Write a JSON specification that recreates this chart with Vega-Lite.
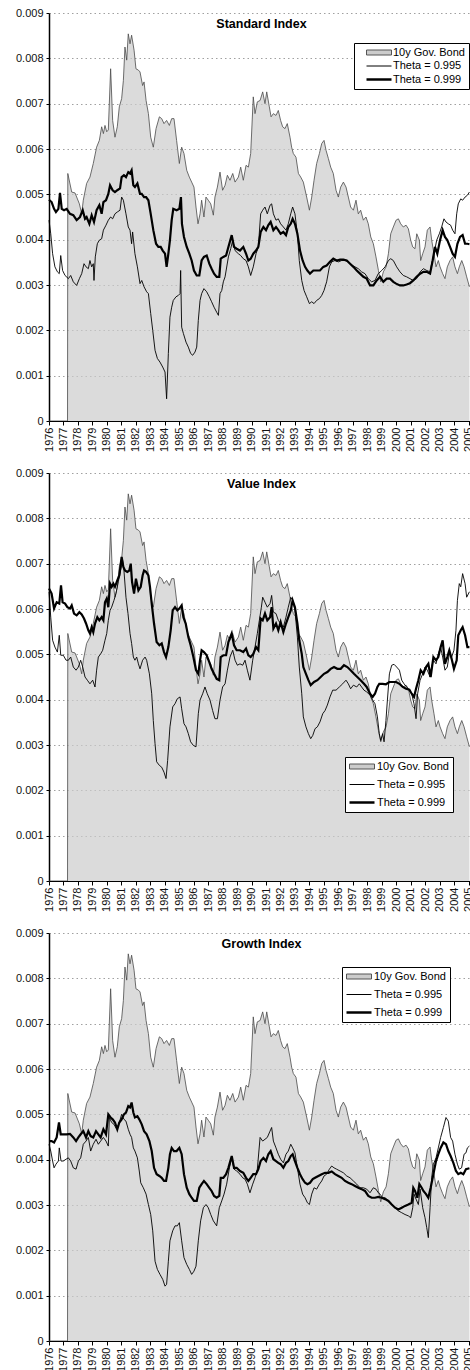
{
"$schema": "https://vega.github.io/schema/vega-lite/v6.json",
"padding": {"left": 15, "top": 7, "right": 0, "bottom": 0},
"background": "white",
"spacing": 15,
"config": {
  "font": "Liberation Sans",
  "view": {"stroke": null},
  "axis": {"labelFont": "Liberation Sans", "labelFontSize": 11, "labelColor": "#111111", "domainColor": "#000000", "tickColor": "#000000", "title": null},
  "legend": {"title": null, "orient": "none", "strokeColor": "#000000", "fillColor": "#ffffff", "padding": 4, "symbolSize": 100, "symbolType": "stroke", "labelFont": "Liberation Sans", "labelFontSize": 11, "labelColor": "#000000"},
  "title": {"font": "Liberation Sans", "fontSize": 12.5, "fontWeight": "bold", "color": "#000000", "anchor": "middle", "frame": "group", "offset": -23, "dx": 2}
},
"resolve": {"scale": {"stroke": "independent"}, "legend": {"stroke": "independent"}},
"datasets": {
"bond": [{"t":1976.00,"v":0},{"t":1977.28,"v":0},{"t":1977.30,"v":0.00546},{"t":1977.57,"v":0.00505},{"t":1977.80,"v":0.00503},{"t":1978.10,"v":0.00479},{"t":1978.26,"v":0.00457},{"t":1978.37,"v":0.00487},{"t":1978.60,"v":0.00524},{"t":1978.83,"v":0.00538},{"t":1979.06,"v":0.00568},{"t":1979.29,"v":0.00604},{"t":1979.48,"v":0.00619},{"t":1979.64,"v":0.00649},{"t":1979.76,"v":0.00634},{"t":1979.87,"v":0.00652},{"t":1979.99,"v":0.00638},{"t":1980.10,"v":0.00642},{"t":1980.26,"v":0.00777},{"t":1980.40,"v":0.00663},{"t":1980.56,"v":0.00626},{"t":1980.72,"v":0.00649},{"t":1980.86,"v":0.00693},{"t":1981.02,"v":0.00711},{"t":1981.14,"v":0.00751},{"t":1981.25,"v":0.00825},{"t":1981.37,"v":0.00796},{"t":1981.48,"v":0.00854},{"t":1981.60,"v":0.00832},{"t":1981.71,"v":0.00851},{"t":1981.88,"v":0.00818},{"t":1982.01,"v":0.00777},{"t":1982.18,"v":0.00774},{"t":1982.29,"v":0.00770},{"t":1982.47,"v":0.00740},{"t":1982.57,"v":0.00748},{"t":1982.71,"v":0.00707},{"t":1982.87,"v":0.00678},{"t":1983.03,"v":0.00626},{"t":1983.21,"v":0.00604},{"t":1983.40,"v":0.00645},{"t":1983.63,"v":0.00671},{"t":1983.79,"v":0.00667},{"t":1983.95,"v":0.00656},{"t":1984.13,"v":0.00663},{"t":1984.32,"v":0.00652},{"t":1984.48,"v":0.00667},{"t":1984.64,"v":0.00667},{"t":1984.82,"v":0.00619},{"t":1985.01,"v":0.00568},{"t":1985.17,"v":0.00604},{"t":1985.33,"v":0.00590},{"t":1985.52,"v":0.00553},{"t":1985.70,"v":0.00538},{"t":1985.86,"v":0.00527},{"t":1986.02,"v":0.00516},{"t":1986.16,"v":0.00472},{"t":1986.30,"v":0.00435},{"t":1986.44,"v":0.00457},{"t":1986.55,"v":0.00487},{"t":1986.71,"v":0.00450},{"t":1986.85,"v":0.00494},{"t":1987.01,"v":0.00487},{"t":1987.18,"v":0.00479},{"t":1987.36,"v":0.00454},{"t":1987.47,"v":0.00494},{"t":1987.64,"v":0.00516},{"t":1987.82,"v":0.00549},{"t":1988.00,"v":0.00509},{"t":1988.17,"v":0.00520},{"t":1988.33,"v":0.00542},{"t":1988.51,"v":0.00531},{"t":1988.70,"v":0.00546},{"t":1988.86,"v":0.00527},{"t":1989.09,"v":0.00538},{"t":1989.25,"v":0.00560},{"t":1989.43,"v":0.00531},{"t":1989.62,"v":0.00564},{"t":1989.78,"v":0.00560},{"t":1989.94,"v":0.00590},{"t":1990.12,"v":0.00715},{"t":1990.24,"v":0.00678},{"t":1990.40,"v":0.00704},{"t":1990.59,"v":0.00707},{"t":1990.77,"v":0.00726},{"t":1990.93,"v":0.00700},{"t":1991.05,"v":0.00726},{"t":1991.23,"v":0.00693},{"t":1991.35,"v":0.00671},{"t":1991.51,"v":0.00678},{"t":1991.69,"v":0.00674},{"t":1991.85,"v":0.00685},{"t":1992.01,"v":0.00663},{"t":1992.15,"v":0.00649},{"t":1992.31,"v":0.00645},{"t":1992.47,"v":0.00656},{"t":1992.66,"v":0.00626},{"t":1992.77,"v":0.00604},{"t":1992.89,"v":0.00590},{"t":1993.07,"v":0.00582},{"t":1993.24,"v":0.00546},{"t":1993.40,"v":0.00538},{"t":1993.58,"v":0.00527},{"t":1993.81,"v":0.00494},{"t":1994.00,"v":0.00465},{"t":1994.16,"v":0.00494},{"t":1994.32,"v":0.00531},{"t":1994.50,"v":0.00568},{"t":1994.69,"v":0.00590},{"t":1994.85,"v":0.00612},{"t":1995.01,"v":0.00619},{"t":1995.15,"v":0.00597},{"t":1995.31,"v":0.00579},{"t":1995.47,"v":0.00560},{"t":1995.65,"v":0.00546},{"t":1995.84,"v":0.00509},{"t":1996.00,"v":0.00494},{"t":1996.16,"v":0.00516},{"t":1996.35,"v":0.00527},{"t":1996.53,"v":0.00516},{"t":1996.69,"v":0.00494},{"t":1996.85,"v":0.00472},{"t":1997.04,"v":0.00465},{"t":1997.22,"v":0.00487},{"t":1997.38,"v":0.00457},{"t":1997.54,"v":0.00465},{"t":1997.73,"v":0.00443},{"t":1997.91,"v":0.00450},{"t":1998.07,"v":0.00435},{"t":1998.24,"v":0.00406},{"t":1998.42,"v":0.00391},{"t":1998.60,"v":0.00362},{"t":1998.77,"v":0.00332},{"t":1998.93,"v":0.00307},{"t":1999.11,"v":0.00329},{"t":1999.30,"v":0.00340},{"t":1999.46,"v":0.00369},{"t":1999.62,"v":0.00413},{"t":1999.80,"v":0.00428},{"t":1999.99,"v":0.00443},{"t":2000.15,"v":0.00446},{"t":2000.31,"v":0.00435},{"t":2000.49,"v":0.00428},{"t":2000.68,"v":0.00432},{"t":2000.84,"v":0.00424},{"t":2001.00,"v":0.00399},{"t":2001.14,"v":0.00384},{"t":2001.30,"v":0.00380},{"t":2001.42,"v":0.00413},{"t":2001.60,"v":0.00399},{"t":2001.69,"v":0.00354},{"t":2001.83,"v":0.00369},{"t":2001.99,"v":0.00384},{"t":2002.15,"v":0.00421},{"t":2002.34,"v":0.00428},{"t":2002.45,"v":0.00399},{"t":2002.61,"v":0.00369},{"t":2002.75,"v":0.00340},{"t":2002.91,"v":0.00354},{"t":2003.03,"v":0.00340},{"t":2003.21,"v":0.00325},{"t":2003.37,"v":0.00314},{"t":2003.53,"v":0.00340},{"t":2003.72,"v":0.00354},{"t":2003.90,"v":0.00362},{"t":2004.06,"v":0.00340},{"t":2004.23,"v":0.00325},{"t":2004.36,"v":0.00340},{"t":2004.53,"v":0.00354},{"t":2004.69,"v":0.00340},{"t":2004.87,"v":0.00318},{"t":2005.06,"v":0.00296}],
"p1a": [{"t":1976.00,"v":0.00443},{"t":1976.12,"v":0.00413},{"t":1976.25,"v":0.00369},{"t":1976.41,"v":0.00340},{"t":1976.58,"v":0.00329},{"t":1976.71,"v":0.00325},{"t":1976.81,"v":0.00365},{"t":1976.94,"v":0.00332},{"t":1977.11,"v":0.00321},{"t":1977.34,"v":0.00314},{"t":1977.50,"v":0.00321},{"t":1977.68,"v":0.00307},{"t":1977.91,"v":0.00299},{"t":1978.10,"v":0.00314},{"t":1978.26,"v":0.00325},{"t":1978.42,"v":0.00347},{"t":1978.56,"v":0.00340},{"t":1978.72,"v":0.00336},{"t":1978.83,"v":0.00354},{"t":1978.95,"v":0.00340},{"t":1979.06,"v":0.00347},{"t":1979.11,"v":0.00310},{"t":1979.20,"v":0.00362},{"t":1979.34,"v":0.00391},{"t":1979.48,"v":0.00399},{"t":1979.64,"v":0.00402},{"t":1979.76,"v":0.00421},{"t":1979.94,"v":0.00432},{"t":1980.10,"v":0.00443},{"t":1980.26,"v":0.00450},{"t":1980.40,"v":0.00446},{"t":1980.56,"v":0.00457},{"t":1980.72,"v":0.00461},{"t":1980.91,"v":0.00465},{"t":1981.02,"v":0.00494},{"t":1981.14,"v":0.00487},{"t":1981.32,"v":0.00457},{"t":1981.48,"v":0.00428},{"t":1981.60,"v":0.00421},{"t":1981.71,"v":0.00391},{"t":1981.78,"v":0.00417},{"t":1981.94,"v":0.00369},{"t":1982.11,"v":0.00340},{"t":1982.29,"v":0.00303},{"t":1982.41,"v":0.00310},{"t":1982.57,"v":0.00296},{"t":1982.75,"v":0.00285},{"t":1982.87,"v":0.00281},{"t":1983.03,"v":0.00237},{"t":1983.17,"v":0.00200},{"t":1983.33,"v":0.00156},{"t":1983.49,"v":0.00138},{"t":1983.67,"v":0.00130},{"t":1983.86,"v":0.00119},{"t":1984.02,"v":0.00108},{"t":1984.13,"v":0.00049},{"t":1984.25,"v":0.00149},{"t":1984.36,"v":0.00229},{"t":1984.48,"v":0.00251},{"t":1984.59,"v":0.00266},{"t":1984.78,"v":0.00274},{"t":1984.94,"v":0.00277},{"t":1985.06,"v":0.00281},{"t":1985.10,"v":0.00332},{"t":1985.17,"v":0.00207},{"t":1985.29,"v":0.00193},{"t":1985.47,"v":0.00174},{"t":1985.63,"v":0.00163},{"t":1985.79,"v":0.00149},{"t":1985.93,"v":0.00145},{"t":1986.09,"v":0.00152},{"t":1986.21,"v":0.00163},{"t":1986.32,"v":0.00222},{"t":1986.44,"v":0.00266},{"t":1986.55,"v":0.00281},{"t":1986.71,"v":0.00292},{"t":1986.90,"v":0.00285},{"t":1987.08,"v":0.00274},{"t":1987.24,"v":0.00263},{"t":1987.41,"v":0.00251},{"t":1987.59,"v":0.00240},{"t":1987.71,"v":0.00233},{"t":1987.82,"v":0.00281},{"t":1987.94,"v":0.00288},{"t":1988.05,"v":0.00307},{"t":1988.17,"v":0.00318},{"t":1988.40,"v":0.00362},{"t":1988.56,"v":0.00380},{"t":1988.70,"v":0.00399},{"t":1988.86,"v":0.00376},{"t":1989.09,"v":0.00369},{"t":1989.25,"v":0.00365},{"t":1989.43,"v":0.00358},{"t":1989.62,"v":0.00354},{"t":1989.78,"v":0.00340},{"t":1989.94,"v":0.00321},{"t":1990.12,"v":0.00340},{"t":1990.31,"v":0.00369},{"t":1990.47,"v":0.00384},{"t":1990.63,"v":0.00457},{"t":1990.77,"v":0.00465},{"t":1990.93,"v":0.00472},{"t":1991.09,"v":0.00457},{"t":1991.28,"v":0.00476},{"t":1991.39,"v":0.00479},{"t":1991.51,"v":0.00457},{"t":1991.69,"v":0.00443},{"t":1991.85,"v":0.00446},{"t":1992.01,"v":0.00435},{"t":1992.20,"v":0.00428},{"t":1992.38,"v":0.00421},{"t":1992.54,"v":0.00435},{"t":1992.71,"v":0.00457},{"t":1992.84,"v":0.00472},{"t":1993.00,"v":0.00457},{"t":1993.17,"v":0.00413},{"t":1993.30,"v":0.00354},{"t":1993.47,"v":0.00310},{"t":1993.63,"v":0.00288},{"t":1993.81,"v":0.00274},{"t":1994.00,"v":0.00259},{"t":1994.16,"v":0.00263},{"t":1994.32,"v":0.00259},{"t":1994.50,"v":0.00266},{"t":1994.69,"v":0.00270},{"t":1994.85,"v":0.00277},{"t":1995.01,"v":0.00288},{"t":1995.19,"v":0.00307},{"t":1995.38,"v":0.00340},{"t":1995.54,"v":0.00351},{"t":1995.77,"v":0.00354},{"t":1996.00,"v":0.00351},{"t":1996.23,"v":0.00354},{"t":1996.46,"v":0.00354},{"t":1996.69,"v":0.00351},{"t":1996.92,"v":0.00343},{"t":1997.15,"v":0.00340},{"t":1997.38,"v":0.00336},{"t":1997.61,"v":0.00329},{"t":1997.84,"v":0.00325},{"t":1998.07,"v":0.00314},{"t":1998.30,"v":0.00307},{"t":1998.53,"v":0.00310},{"t":1998.76,"v":0.00325},{"t":1999.00,"v":0.00332},{"t":1999.23,"v":0.00340},{"t":1999.46,"v":0.00354},{"t":1999.62,"v":0.00358},{"t":1999.80,"v":0.00354},{"t":2000.03,"v":0.00340},{"t":2000.26,"v":0.00329},{"t":2000.49,"v":0.00321},{"t":2000.72,"v":0.00318},{"t":2000.95,"v":0.00314},{"t":2001.18,"v":0.00310},{"t":2001.41,"v":0.00314},{"t":2001.65,"v":0.00329},{"t":2001.88,"v":0.00336},{"t":2002.11,"v":0.00332},{"t":2002.34,"v":0.00329},{"t":2002.45,"v":0.00347},{"t":2002.61,"v":0.00369},{"t":2002.80,"v":0.00399},{"t":2002.98,"v":0.00413},{"t":2003.14,"v":0.00428},{"t":2003.30,"v":0.00446},{"t":2003.44,"v":0.00439},{"t":2003.60,"v":0.00435},{"t":2003.76,"v":0.00432},{"t":2003.90,"v":0.00421},{"t":2004.06,"v":0.00413},{"t":2004.18,"v":0.00457},{"t":2004.29,"v":0.00479},{"t":2004.46,"v":0.00490},{"t":2004.59,"v":0.00487},{"t":2004.76,"v":0.00494},{"t":2004.92,"v":0.00498},{"t":2005.06,"v":0.00505}],
"p1b": [{"t":1976.00,"v":0.00488},{"t":1976.18,"v":0.00483},{"t":1976.35,"v":0.00468},{"t":1976.48,"v":0.00461},{"t":1976.65,"v":0.00468},{"t":1976.76,"v":0.00503},{"t":1976.88,"v":0.00468},{"t":1977.04,"v":0.00465},{"t":1977.22,"v":0.00468},{"t":1977.45,"v":0.00457},{"t":1977.68,"v":0.00454},{"t":1977.91,"v":0.00443},{"t":1978.14,"v":0.00450},{"t":1978.33,"v":0.00465},{"t":1978.49,"v":0.00446},{"t":1978.60,"v":0.00450},{"t":1978.79,"v":0.00435},{"t":1978.95,"v":0.00454},{"t":1979.11,"v":0.00439},{"t":1979.29,"v":0.00465},{"t":1979.48,"v":0.00476},{"t":1979.64,"v":0.00457},{"t":1979.76,"v":0.00483},{"t":1979.94,"v":0.00487},{"t":1980.10,"v":0.00501},{"t":1980.22,"v":0.00520},{"t":1980.40,"v":0.00509},{"t":1980.56,"v":0.00505},{"t":1980.72,"v":0.00509},{"t":1980.91,"v":0.00513},{"t":1981.02,"v":0.00538},{"t":1981.18,"v":0.00542},{"t":1981.32,"v":0.00538},{"t":1981.48,"v":0.00549},{"t":1981.60,"v":0.00546},{"t":1981.71,"v":0.00553},{"t":1981.83,"v":0.00520},{"t":1981.94,"v":0.00516},{"t":1982.11,"v":0.00524},{"t":1982.29,"v":0.00501},{"t":1982.41,"v":0.00501},{"t":1982.57,"v":0.00494},{"t":1982.71,"v":0.00494},{"t":1982.87,"v":0.00487},{"t":1983.03,"v":0.00457},{"t":1983.21,"v":0.00421},{"t":1983.40,"v":0.00391},{"t":1983.56,"v":0.00384},{"t":1983.72,"v":0.00384},{"t":1983.86,"v":0.00376},{"t":1984.02,"v":0.00369},{"t":1984.13,"v":0.00340},{"t":1984.25,"v":0.00369},{"t":1984.36,"v":0.00399},{"t":1984.48,"v":0.00443},{"t":1984.59,"v":0.00468},{"t":1984.82,"v":0.00465},{"t":1985.01,"v":0.00468},{"t":1985.12,"v":0.00494},{"t":1985.19,"v":0.00435},{"t":1985.33,"v":0.00406},{"t":1985.52,"v":0.00384},{"t":1985.70,"v":0.00369},{"t":1985.86,"v":0.00354},{"t":1986.02,"v":0.00332},{"t":1986.21,"v":0.00321},{"t":1986.39,"v":0.00321},{"t":1986.55,"v":0.00354},{"t":1986.71,"v":0.00362},{"t":1986.90,"v":0.00365},{"t":1987.08,"v":0.00347},{"t":1987.24,"v":0.00336},{"t":1987.41,"v":0.00325},{"t":1987.59,"v":0.00318},{"t":1987.77,"v":0.00318},{"t":1987.87,"v":0.00358},{"t":1988.05,"v":0.00362},{"t":1988.24,"v":0.00365},{"t":1988.40,"v":0.00384},{"t":1988.63,"v":0.00410},{"t":1988.79,"v":0.00384},{"t":1988.97,"v":0.00380},{"t":1989.20,"v":0.00376},{"t":1989.43,"v":0.00384},{"t":1989.62,"v":0.00369},{"t":1989.78,"v":0.00354},{"t":1989.94,"v":0.00358},{"t":1990.12,"v":0.00369},{"t":1990.31,"v":0.00376},{"t":1990.47,"v":0.00384},{"t":1990.63,"v":0.00417},{"t":1990.82,"v":0.00428},{"t":1991.00,"v":0.00421},{"t":1991.16,"v":0.00432},{"t":1991.32,"v":0.00439},{"t":1991.51,"v":0.00421},{"t":1991.69,"v":0.00428},{"t":1991.85,"v":0.00421},{"t":1992.01,"v":0.00413},{"t":1992.20,"v":0.00417},{"t":1992.38,"v":0.00410},{"t":1992.54,"v":0.00428},{"t":1992.71,"v":0.00435},{"t":1992.84,"v":0.00446},{"t":1993.00,"v":0.00435},{"t":1993.17,"v":0.00413},{"t":1993.35,"v":0.00376},{"t":1993.53,"v":0.00354},{"t":1993.70,"v":0.00340},{"t":1993.86,"v":0.00332},{"t":1994.04,"v":0.00325},{"t":1994.27,"v":0.00332},{"t":1994.50,"v":0.00332},{"t":1994.73,"v":0.00332},{"t":1994.96,"v":0.00340},{"t":1995.19,"v":0.00343},{"t":1995.42,"v":0.00351},{"t":1995.65,"v":0.00358},{"t":1995.88,"v":0.00354},{"t":1996.12,"v":0.00356},{"t":1996.35,"v":0.00356},{"t":1996.58,"v":0.00354},{"t":1996.81,"v":0.00347},{"t":1997.04,"v":0.00340},{"t":1997.27,"v":0.00332},{"t":1997.50,"v":0.00325},{"t":1997.73,"v":0.00318},{"t":1997.96,"v":0.00314},{"t":1998.19,"v":0.00299},{"t":1998.42,"v":0.00299},{"t":1998.65,"v":0.00310},{"t":1998.88,"v":0.00318},{"t":1999.11,"v":0.00307},{"t":1999.34,"v":0.00314},{"t":1999.57,"v":0.00314},{"t":1999.80,"v":0.00307},{"t":1999.99,"v":0.00303},{"t":2000.26,"v":0.00299},{"t":2000.49,"v":0.00299},{"t":2000.72,"v":0.00301},{"t":2000.95,"v":0.00304},{"t":2001.18,"v":0.00310},{"t":2001.41,"v":0.00318},{"t":2001.65,"v":0.00325},{"t":2001.88,"v":0.00329},{"t":2002.11,"v":0.00329},{"t":2002.34,"v":0.00325},{"t":2002.52,"v":0.00354},{"t":2002.68,"v":0.00384},{"t":2002.84,"v":0.00369},{"t":2003.03,"v":0.00399},{"t":2003.21,"v":0.00421},{"t":2003.37,"v":0.00406},{"t":2003.53,"v":0.00399},{"t":2003.72,"v":0.00384},{"t":2003.90,"v":0.00369},{"t":2004.06,"v":0.00362},{"t":2004.23,"v":0.00391},{"t":2004.41,"v":0.00406},{"t":2004.59,"v":0.00410},{"t":2004.76,"v":0.00391},{"t":2004.92,"v":0.00391},{"t":2005.06,"v":0.00390}],
"p2a": [{"t":1976.00,"v":0.00638},{"t":1976.12,"v":0.00582},{"t":1976.25,"v":0.00531},{"t":1976.41,"v":0.00516},{"t":1976.58,"v":0.00505},{"t":1976.71,"v":0.00542},{"t":1976.81,"v":0.00498},{"t":1976.99,"v":0.00498},{"t":1977.18,"v":0.00487},{"t":1977.34,"v":0.00487},{"t":1977.50,"v":0.00494},{"t":1977.68,"v":0.00472},{"t":1977.87,"v":0.00465},{"t":1978.03,"v":0.00472},{"t":1978.19,"v":0.00487},{"t":1978.33,"v":0.00472},{"t":1978.49,"v":0.00450},{"t":1978.65,"v":0.00443},{"t":1978.83,"v":0.00435},{"t":1979.02,"v":0.00443},{"t":1979.18,"v":0.00428},{"t":1979.29,"v":0.00465},{"t":1979.41,"v":0.00494},{"t":1979.57,"v":0.00501},{"t":1979.71,"v":0.00509},{"t":1979.87,"v":0.00531},{"t":1979.99,"v":0.00546},{"t":1980.10,"v":0.00575},{"t":1980.22,"v":0.00597},{"t":1980.33,"v":0.00604},{"t":1980.49,"v":0.00619},{"t":1980.63,"v":0.00634},{"t":1980.79,"v":0.00660},{"t":1980.95,"v":0.00685},{"t":1981.09,"v":0.00707},{"t":1981.18,"v":0.00685},{"t":1981.32,"v":0.00626},{"t":1981.46,"v":0.00590},{"t":1981.60,"v":0.00546},{"t":1981.71,"v":0.00524},{"t":1981.83,"v":0.00494},{"t":1981.94,"v":0.00487},{"t":1982.06,"v":0.00494},{"t":1982.18,"v":0.00479},{"t":1982.29,"v":0.00468},{"t":1982.47,"v":0.00487},{"t":1982.64,"v":0.00494},{"t":1982.75,"v":0.00487},{"t":1982.94,"v":0.00457},{"t":1983.10,"v":0.00413},{"t":1983.21,"v":0.00354},{"t":1983.33,"v":0.00303},{"t":1983.44,"v":0.00263},{"t":1983.63,"v":0.00255},{"t":1983.79,"v":0.00251},{"t":1983.95,"v":0.00240},{"t":1984.09,"v":0.00226},{"t":1984.20,"v":0.00266},{"t":1984.36,"v":0.00340},{"t":1984.55,"v":0.00384},{"t":1984.71,"v":0.00391},{"t":1984.87,"v":0.00402},{"t":1985.06,"v":0.00406},{"t":1985.17,"v":0.00380},{"t":1985.33,"v":0.00347},{"t":1985.47,"v":0.00340},{"t":1985.63,"v":0.00325},{"t":1985.79,"v":0.00307},{"t":1985.98,"v":0.00299},{"t":1986.16,"v":0.00296},{"t":1986.32,"v":0.00369},{"t":1986.44,"v":0.00399},{"t":1986.62,"v":0.00413},{"t":1986.78,"v":0.00428},{"t":1986.94,"v":0.00413},{"t":1987.13,"v":0.00399},{"t":1987.31,"v":0.00376},{"t":1987.47,"v":0.00358},{"t":1987.64,"v":0.00358},{"t":1987.82,"v":0.00399},{"t":1988.00,"v":0.00428},{"t":1988.17,"v":0.00435},{"t":1988.33,"v":0.00465},{"t":1988.51,"v":0.00494},{"t":1988.70,"v":0.00509},{"t":1988.86,"v":0.00487},{"t":1989.02,"v":0.00476},{"t":1989.20,"v":0.00479},{"t":1989.39,"v":0.00476},{"t":1989.55,"v":0.00487},{"t":1989.71,"v":0.00465},{"t":1989.89,"v":0.00443},{"t":1990.08,"v":0.00487},{"t":1990.24,"v":0.00516},{"t":1990.40,"v":0.00546},{"t":1990.54,"v":0.00575},{"t":1990.68,"v":0.00604},{"t":1990.77,"v":0.00626},{"t":1990.93,"v":0.00615},{"t":1991.09,"v":0.00604},{"t":1991.28,"v":0.00612},{"t":1991.39,"v":0.00630},{"t":1991.51,"v":0.00593},{"t":1991.69,"v":0.00590},{"t":1991.85,"v":0.00575},{"t":1992.01,"v":0.00568},{"t":1992.20,"v":0.00560},{"t":1992.38,"v":0.00582},{"t":1992.54,"v":0.00604},{"t":1992.71,"v":0.00626},{"t":1992.84,"v":0.00619},{"t":1993.00,"v":0.00597},{"t":1993.17,"v":0.00538},{"t":1993.30,"v":0.00472},{"t":1993.47,"v":0.00413},{"t":1993.58,"v":0.00362},{"t":1993.76,"v":0.00340},{"t":1993.93,"v":0.00325},{"t":1994.09,"v":0.00314},{"t":1994.23,"v":0.00321},{"t":1994.39,"v":0.00336},{"t":1994.55,"v":0.00340},{"t":1994.73,"v":0.00351},{"t":1994.92,"v":0.00369},{"t":1995.08,"v":0.00376},{"t":1995.24,"v":0.00388},{"t":1995.42,"v":0.00406},{"t":1995.61,"v":0.00421},{"t":1995.84,"v":0.00421},{"t":1996.07,"v":0.00428},{"t":1996.30,"v":0.00435},{"t":1996.53,"v":0.00443},{"t":1996.69,"v":0.00435},{"t":1996.85,"v":0.00424},{"t":1997.04,"v":0.00432},{"t":1997.27,"v":0.00428},{"t":1997.45,"v":0.00435},{"t":1997.61,"v":0.00428},{"t":1997.77,"v":0.00421},{"t":1997.96,"v":0.00417},{"t":1998.19,"v":0.00410},{"t":1998.37,"v":0.00399},{"t":1998.53,"v":0.00391},{"t":1998.70,"v":0.00362},{"t":1998.83,"v":0.00325},{"t":1998.93,"v":0.00310},{"t":1999.06,"v":0.00325},{"t":1999.16,"v":0.00307},{"t":1999.29,"v":0.00354},{"t":1999.39,"v":0.00399},{"t":1999.53,"v":0.00457},{"t":1999.69,"v":0.00476},{"t":1999.85,"v":0.00478},{"t":2000.03,"v":0.00472},{"t":2000.22,"v":0.00465},{"t":2000.38,"v":0.00443},{"t":2000.54,"v":0.00435},{"t":2000.72,"v":0.00428},{"t":2000.91,"v":0.00421},{"t":2001.07,"v":0.00413},{"t":2001.23,"v":0.00391},{"t":2001.37,"v":0.00358},{"t":2001.48,"v":0.00413},{"t":2001.65,"v":0.00443},{"t":2001.83,"v":0.00457},{"t":2001.99,"v":0.00472},{"t":2002.15,"v":0.00465},{"t":2002.34,"v":0.00450},{"t":2002.45,"v":0.00472},{"t":2002.57,"v":0.00487},{"t":2002.75,"v":0.00479},{"t":2002.91,"v":0.00501},{"t":2003.07,"v":0.00516},{"t":2003.21,"v":0.00494},{"t":2003.37,"v":0.00465},{"t":2003.53,"v":0.00472},{"t":2003.67,"v":0.00501},{"t":2003.83,"v":0.00494},{"t":2003.99,"v":0.00509},{"t":2004.13,"v":0.00553},{"t":2004.23,"v":0.00619},{"t":2004.36,"v":0.00656},{"t":2004.46,"v":0.00649},{"t":2004.59,"v":0.00678},{"t":2004.76,"v":0.00656},{"t":2004.87,"v":0.00626},{"t":2005.06,"v":0.00638}],
"p2b": [{"t":1976.00,"v":0.00645},{"t":1976.18,"v":0.00634},{"t":1976.35,"v":0.00601},{"t":1976.53,"v":0.00615},{"t":1976.71,"v":0.00612},{"t":1976.83,"v":0.00652},{"t":1976.94,"v":0.00615},{"t":1977.11,"v":0.00612},{"t":1977.27,"v":0.00604},{"t":1977.45,"v":0.00601},{"t":1977.57,"v":0.00608},{"t":1977.73,"v":0.00590},{"t":1977.91,"v":0.00586},{"t":1978.10,"v":0.00593},{"t":1978.26,"v":0.00588},{"t":1978.42,"v":0.00579},{"t":1978.56,"v":0.00568},{"t":1978.72,"v":0.00553},{"t":1978.83,"v":0.00546},{"t":1978.95,"v":0.00560},{"t":1979.06,"v":0.00549},{"t":1979.18,"v":0.00568},{"t":1979.34,"v":0.00582},{"t":1979.48,"v":0.00575},{"t":1979.64,"v":0.00582},{"t":1979.76,"v":0.00575},{"t":1979.87,"v":0.00615},{"t":1979.99,"v":0.00623},{"t":1980.10,"v":0.00604},{"t":1980.22,"v":0.00656},{"t":1980.33,"v":0.00649},{"t":1980.45,"v":0.00656},{"t":1980.56,"v":0.00649},{"t":1980.72,"v":0.00663},{"t":1980.86,"v":0.00674},{"t":1981.02,"v":0.00715},{"t":1981.14,"v":0.00693},{"t":1981.25,"v":0.00685},{"t":1981.41,"v":0.00682},{"t":1981.55,"v":0.00685},{"t":1981.65,"v":0.00700},{"t":1981.74,"v":0.00660},{"t":1981.88,"v":0.00634},{"t":1982.01,"v":0.00667},{"t":1982.18,"v":0.00641},{"t":1982.34,"v":0.00649},{"t":1982.47,"v":0.00674},{"t":1982.57,"v":0.00685},{"t":1982.71,"v":0.00682},{"t":1982.87,"v":0.00674},{"t":1982.98,"v":0.00649},{"t":1983.10,"v":0.00612},{"t":1983.26,"v":0.00568},{"t":1983.44,"v":0.00527},{"t":1983.63,"v":0.00520},{"t":1983.79,"v":0.00524},{"t":1983.95,"v":0.00505},{"t":1984.09,"v":0.00494},{"t":1984.25,"v":0.00516},{"t":1984.41,"v":0.00553},{"t":1984.55,"v":0.00597},{"t":1984.71,"v":0.00604},{"t":1984.87,"v":0.00597},{"t":1985.01,"v":0.00601},{"t":1985.17,"v":0.00608},{"t":1985.29,"v":0.00582},{"t":1985.45,"v":0.00568},{"t":1985.63,"v":0.00538},{"t":1985.79,"v":0.00520},{"t":1985.98,"v":0.00494},{"t":1986.16,"v":0.00465},{"t":1986.32,"v":0.00457},{"t":1986.44,"v":0.00487},{"t":1986.55,"v":0.00509},{"t":1986.71,"v":0.00505},{"t":1986.90,"v":0.00498},{"t":1987.08,"v":0.00483},{"t":1987.24,"v":0.00468},{"t":1987.41,"v":0.00457},{"t":1987.59,"v":0.00446},{"t":1987.77,"v":0.00443},{"t":1987.87,"v":0.00494},{"t":1988.05,"v":0.00498},{"t":1988.24,"v":0.00498},{"t":1988.40,"v":0.00527},{"t":1988.63,"v":0.00546},{"t":1988.79,"v":0.00520},{"t":1988.97,"v":0.00509},{"t":1989.20,"v":0.00509},{"t":1989.43,"v":0.00505},{"t":1989.62,"v":0.00513},{"t":1989.78,"v":0.00498},{"t":1989.94,"v":0.00494},{"t":1990.12,"v":0.00501},{"t":1990.31,"v":0.00516},{"t":1990.47,"v":0.00509},{"t":1990.63,"v":0.00579},{"t":1990.77,"v":0.00575},{"t":1990.93,"v":0.00590},{"t":1991.09,"v":0.00575},{"t":1991.28,"v":0.00582},{"t":1991.39,"v":0.00604},{"t":1991.51,"v":0.00557},{"t":1991.69,"v":0.00568},{"t":1991.85,"v":0.00553},{"t":1992.01,"v":0.00571},{"t":1992.20,"v":0.00549},{"t":1992.38,"v":0.00568},{"t":1992.54,"v":0.00582},{"t":1992.71,"v":0.00597},{"t":1992.84,"v":0.00619},{"t":1993.00,"v":0.00604},{"t":1993.17,"v":0.00568},{"t":1993.30,"v":0.00531},{"t":1993.47,"v":0.00501},{"t":1993.58,"v":0.00472},{"t":1993.76,"v":0.00457},{"t":1993.93,"v":0.00443},{"t":1994.09,"v":0.00432},{"t":1994.32,"v":0.00439},{"t":1994.55,"v":0.00443},{"t":1994.78,"v":0.00450},{"t":1995.01,"v":0.00457},{"t":1995.24,"v":0.00461},{"t":1995.47,"v":0.00468},{"t":1995.70,"v":0.00472},{"t":1995.93,"v":0.00468},{"t":1996.16,"v":0.00468},{"t":1996.39,"v":0.00476},{"t":1996.62,"v":0.00472},{"t":1996.85,"v":0.00465},{"t":1997.08,"v":0.00457},{"t":1997.31,"v":0.00450},{"t":1997.54,"v":0.00443},{"t":1997.77,"v":0.00435},{"t":1997.96,"v":0.00428},{"t":1998.19,"v":0.00413},{"t":1998.37,"v":0.00406},{"t":1998.53,"v":0.00413},{"t":1998.70,"v":0.00428},{"t":1998.83,"v":0.00435},{"t":1999.06,"v":0.00435},{"t":1999.29,"v":0.00434},{"t":1999.53,"v":0.00439},{"t":1999.76,"v":0.00439},{"t":1999.99,"v":0.00439},{"t":2000.22,"v":0.00435},{"t":2000.45,"v":0.00428},{"t":2000.68,"v":0.00424},{"t":2000.91,"v":0.00422},{"t":2001.07,"v":0.00413},{"t":2001.23,"v":0.00406},{"t":2001.37,"v":0.00424},{"t":2001.53,"v":0.00443},{"t":2001.69,"v":0.00465},{"t":2001.88,"v":0.00457},{"t":2002.06,"v":0.00472},{"t":2002.22,"v":0.00479},{"t":2002.38,"v":0.00450},{"t":2002.57,"v":0.00494},{"t":2002.75,"v":0.00487},{"t":2002.91,"v":0.00494},{"t":2003.07,"v":0.00516},{"t":2003.21,"v":0.00531},{"t":2003.37,"v":0.00479},{"t":2003.53,"v":0.00494},{"t":2003.67,"v":0.00509},{"t":2003.83,"v":0.00490},{"t":2003.99,"v":0.00468},{"t":2004.18,"v":0.00487},{"t":2004.29,"v":0.00542},{"t":2004.46,"v":0.00553},{"t":2004.59,"v":0.00560},{"t":2004.76,"v":0.00542},{"t":2004.92,"v":0.00516},{"t":2005.06,"v":0.00516}],
"p3a": [{"t":1976.00,"v":0.00434},{"t":1976.12,"v":0.00419},{"t":1976.25,"v":0.00397},{"t":1976.35,"v":0.00382},{"t":1976.48,"v":0.00390},{"t":1976.65,"v":0.00397},{"t":1976.71,"v":0.00426},{"t":1976.83,"v":0.00397},{"t":1976.99,"v":0.00397},{"t":1977.18,"v":0.00401},{"t":1977.34,"v":0.00404},{"t":1977.50,"v":0.00397},{"t":1977.68,"v":0.00382},{"t":1977.87,"v":0.00379},{"t":1978.03,"v":0.00397},{"t":1978.19,"v":0.00404},{"t":1978.37,"v":0.00434},{"t":1978.56,"v":0.00441},{"t":1978.72,"v":0.00449},{"t":1978.88,"v":0.00419},{"t":1979.06,"v":0.00434},{"t":1979.25,"v":0.00445},{"t":1979.41,"v":0.00434},{"t":1979.57,"v":0.00441},{"t":1979.76,"v":0.00449},{"t":1979.94,"v":0.00441},{"t":1980.10,"v":0.00430},{"t":1980.17,"v":0.00493},{"t":1980.33,"v":0.00482},{"t":1980.49,"v":0.00478},{"t":1980.68,"v":0.00467},{"t":1980.86,"v":0.00482},{"t":1981.02,"v":0.00500},{"t":1981.18,"v":0.00489},{"t":1981.32,"v":0.00485},{"t":1981.48,"v":0.00467},{"t":1981.60,"v":0.00456},{"t":1981.71,"v":0.00449},{"t":1981.83,"v":0.00426},{"t":1981.94,"v":0.00419},{"t":1982.11,"v":0.00404},{"t":1982.24,"v":0.00375},{"t":1982.34,"v":0.00349},{"t":1982.52,"v":0.00338},{"t":1982.71,"v":0.00324},{"t":1982.87,"v":0.00301},{"t":1983.03,"v":0.00279},{"t":1983.17,"v":0.00243},{"t":1983.33,"v":0.00176},{"t":1983.49,"v":0.00158},{"t":1983.67,"v":0.00147},{"t":1983.86,"v":0.00136},{"t":1984.02,"v":0.00121},{"t":1984.13,"v":0.00125},{"t":1984.25,"v":0.00176},{"t":1984.36,"v":0.00221},{"t":1984.55,"v":0.00243},{"t":1984.71,"v":0.00254},{"t":1984.87,"v":0.00254},{"t":1985.01,"v":0.00261},{"t":1985.17,"v":0.00221},{"t":1985.33,"v":0.00184},{"t":1985.52,"v":0.00169},{"t":1985.70,"v":0.00158},{"t":1985.86,"v":0.00147},{"t":1986.02,"v":0.00154},{"t":1986.16,"v":0.00165},{"t":1986.32,"v":0.00221},{"t":1986.48,"v":0.00265},{"t":1986.67,"v":0.00294},{"t":1986.85,"v":0.00301},{"t":1987.01,"v":0.00294},{"t":1987.18,"v":0.00279},{"t":1987.36,"v":0.00265},{"t":1987.59,"v":0.00254},{"t":1987.77,"v":0.00294},{"t":1987.94,"v":0.00309},{"t":1988.10,"v":0.00324},{"t":1988.28,"v":0.00346},{"t":1988.47,"v":0.00382},{"t":1988.63,"v":0.00404},{"t":1988.79,"v":0.00379},{"t":1988.97,"v":0.00375},{"t":1989.20,"v":0.00368},{"t":1989.39,"v":0.00360},{"t":1989.55,"v":0.00357},{"t":1989.71,"v":0.00346},{"t":1989.89,"v":0.00327},{"t":1990.08,"v":0.00346},{"t":1990.24,"v":0.00360},{"t":1990.40,"v":0.00379},{"t":1990.59,"v":0.00449},{"t":1990.77,"v":0.00441},{"t":1990.93,"v":0.00445},{"t":1991.09,"v":0.00449},{"t":1991.28,"v":0.00463},{"t":1991.39,"v":0.00471},{"t":1991.51,"v":0.00441},{"t":1991.69,"v":0.00426},{"t":1991.85,"v":0.00412},{"t":1992.01,"v":0.00401},{"t":1992.20,"v":0.00393},{"t":1992.38,"v":0.00412},{"t":1992.54,"v":0.00419},{"t":1992.71,"v":0.00434},{"t":1992.84,"v":0.00426},{"t":1993.00,"v":0.00415},{"t":1993.17,"v":0.00382},{"t":1993.35,"v":0.00346},{"t":1993.53,"v":0.00324},{"t":1993.70,"v":0.00316},{"t":1993.86,"v":0.00305},{"t":1994.00,"v":0.00301},{"t":1994.16,"v":0.00324},{"t":1994.32,"v":0.00338},{"t":1994.50,"v":0.00335},{"t":1994.69,"v":0.00346},{"t":1994.85,"v":0.00353},{"t":1995.01,"v":0.00364},{"t":1995.19,"v":0.00368},{"t":1995.38,"v":0.00379},{"t":1995.54,"v":0.00386},{"t":1995.70,"v":0.00382},{"t":1995.88,"v":0.00379},{"t":1996.12,"v":0.00375},{"t":1996.35,"v":0.00371},{"t":1996.58,"v":0.00364},{"t":1996.81,"v":0.00360},{"t":1997.04,"v":0.00353},{"t":1997.27,"v":0.00346},{"t":1997.50,"v":0.00338},{"t":1997.73,"v":0.00338},{"t":1997.96,"v":0.00335},{"t":1998.19,"v":0.00327},{"t":1998.42,"v":0.00338},{"t":1998.60,"v":0.00335},{"t":1998.76,"v":0.00327},{"t":1998.88,"v":0.00324},{"t":1999.06,"v":0.00316},{"t":1999.23,"v":0.00316},{"t":1999.46,"v":0.00309},{"t":1999.69,"v":0.00301},{"t":1999.92,"v":0.00294},{"t":2000.15,"v":0.00287},{"t":2000.38,"v":0.00283},{"t":2000.61,"v":0.00279},{"t":2000.84,"v":0.00276},{"t":2001.00,"v":0.00272},{"t":2001.14,"v":0.00294},{"t":2001.23,"v":0.00324},{"t":2001.37,"v":0.00313},{"t":2001.53,"v":0.00301},{"t":2001.65,"v":0.00335},{"t":2001.83,"v":0.00294},{"t":2001.99,"v":0.00272},{"t":2002.11,"v":0.00250},{"t":2002.22,"v":0.00228},{"t":2002.34,"v":0.00294},{"t":2002.45,"v":0.00360},{"t":2002.57,"v":0.00390},{"t":2002.75,"v":0.00404},{"t":2002.91,"v":0.00426},{"t":2003.07,"v":0.00449},{"t":2003.26,"v":0.00471},{"t":2003.44,"v":0.00493},{"t":2003.60,"v":0.00485},{"t":2003.76,"v":0.00449},{"t":2003.90,"v":0.00441},{"t":2004.06,"v":0.00412},{"t":2004.23,"v":0.00390},{"t":2004.36,"v":0.00379},{"t":2004.52,"v":0.00382},{"t":2004.69,"v":0.00412},{"t":2004.82,"v":0.00415},{"t":2004.92,"v":0.00426},{"t":2005.06,"v":0.00430}],
"p3b": [{"t":1976.00,"v":0.00441},{"t":1976.18,"v":0.00441},{"t":1976.35,"v":0.00438},{"t":1976.53,"v":0.00449},{"t":1976.69,"v":0.00482},{"t":1976.81,"v":0.00456},{"t":1976.99,"v":0.00456},{"t":1977.22,"v":0.00456},{"t":1977.45,"v":0.00457},{"t":1977.68,"v":0.00449},{"t":1977.87,"v":0.00441},{"t":1978.03,"v":0.00449},{"t":1978.19,"v":0.00456},{"t":1978.37,"v":0.00463},{"t":1978.56,"v":0.00449},{"t":1978.72,"v":0.00463},{"t":1978.88,"v":0.00452},{"t":1979.06,"v":0.00449},{"t":1979.25,"v":0.00463},{"t":1979.41,"v":0.00456},{"t":1979.57,"v":0.00449},{"t":1979.76,"v":0.00467},{"t":1979.94,"v":0.00456},{"t":1980.10,"v":0.00500},{"t":1980.26,"v":0.00493},{"t":1980.40,"v":0.00489},{"t":1980.56,"v":0.00482},{"t":1980.72,"v":0.00467},{"t":1980.86,"v":0.00482},{"t":1981.02,"v":0.00489},{"t":1981.18,"v":0.00500},{"t":1981.32,"v":0.00504},{"t":1981.48,"v":0.00518},{"t":1981.60,"v":0.00515},{"t":1981.71,"v":0.00526},{"t":1981.83,"v":0.00504},{"t":1981.94,"v":0.00493},{"t":1982.11,"v":0.00496},{"t":1982.24,"v":0.00489},{"t":1982.41,"v":0.00478},{"t":1982.57,"v":0.00463},{"t":1982.75,"v":0.00456},{"t":1982.94,"v":0.00441},{"t":1983.10,"v":0.00419},{"t":1983.26,"v":0.00382},{"t":1983.44,"v":0.00368},{"t":1983.63,"v":0.00364},{"t":1983.79,"v":0.00360},{"t":1983.95,"v":0.00353},{"t":1984.09,"v":0.00353},{"t":1984.25,"v":0.00382},{"t":1984.36,"v":0.00412},{"t":1984.48,"v":0.00426},{"t":1984.64,"v":0.00419},{"t":1984.82,"v":0.00419},{"t":1985.01,"v":0.00426},{"t":1985.17,"v":0.00412},{"t":1985.33,"v":0.00368},{"t":1985.52,"v":0.00338},{"t":1985.70,"v":0.00324},{"t":1985.86,"v":0.00316},{"t":1986.02,"v":0.00309},{"t":1986.21,"v":0.00309},{"t":1986.39,"v":0.00338},{"t":1986.55,"v":0.00346},{"t":1986.71,"v":0.00353},{"t":1986.90,"v":0.00346},{"t":1987.08,"v":0.00338},{"t":1987.24,"v":0.00331},{"t":1987.41,"v":0.00320},{"t":1987.59,"v":0.00316},{"t":1987.77,"v":0.00320},{"t":1987.87,"v":0.00360},{"t":1988.05,"v":0.00360},{"t":1988.24,"v":0.00368},{"t":1988.40,"v":0.00382},{"t":1988.63,"v":0.00408},{"t":1988.79,"v":0.00382},{"t":1988.97,"v":0.00382},{"t":1989.20,"v":0.00375},{"t":1989.43,"v":0.00371},{"t":1989.62,"v":0.00360},{"t":1989.78,"v":0.00353},{"t":1989.94,"v":0.00360},{"t":1990.12,"v":0.00368},{"t":1990.31,"v":0.00368},{"t":1990.47,"v":0.00379},{"t":1990.63,"v":0.00397},{"t":1990.82,"v":0.00404},{"t":1991.00,"v":0.00397},{"t":1991.16,"v":0.00412},{"t":1991.32,"v":0.00419},{"t":1991.51,"v":0.00401},{"t":1991.69,"v":0.00397},{"t":1991.85,"v":0.00393},{"t":1992.01,"v":0.00390},{"t":1992.20,"v":0.00382},{"t":1992.38,"v":0.00393},{"t":1992.54,"v":0.00397},{"t":1992.71,"v":0.00408},{"t":1992.84,"v":0.00412},{"t":1993.00,"v":0.00397},{"t":1993.17,"v":0.00382},{"t":1993.35,"v":0.00368},{"t":1993.53,"v":0.00357},{"t":1993.70,"v":0.00349},{"t":1993.86,"v":0.00346},{"t":1994.04,"v":0.00349},{"t":1994.23,"v":0.00357},{"t":1994.39,"v":0.00360},{"t":1994.62,"v":0.00364},{"t":1994.85,"v":0.00368},{"t":1995.08,"v":0.00371},{"t":1995.31,"v":0.00371},{"t":1995.54,"v":0.00374},{"t":1995.77,"v":0.00368},{"t":1996.00,"v":0.00364},{"t":1996.23,"v":0.00360},{"t":1996.46,"v":0.00353},{"t":1996.69,"v":0.00349},{"t":1996.92,"v":0.00346},{"t":1997.15,"v":0.00342},{"t":1997.38,"v":0.00338},{"t":1997.61,"v":0.00335},{"t":1997.84,"v":0.00331},{"t":1998.07,"v":0.00320},{"t":1998.30,"v":0.00316},{"t":1998.53,"v":0.00316},{"t":1998.76,"v":0.00318},{"t":1999.00,"v":0.00316},{"t":1999.23,"v":0.00313},{"t":1999.46,"v":0.00309},{"t":1999.69,"v":0.00301},{"t":1999.92,"v":0.00294},{"t":2000.15,"v":0.00290},{"t":2000.38,"v":0.00294},{"t":2000.61,"v":0.00298},{"t":2000.84,"v":0.00301},{"t":2001.07,"v":0.00305},{"t":2001.18,"v":0.00338},{"t":2001.30,"v":0.00331},{"t":2001.46,"v":0.00316},{"t":2001.60,"v":0.00346},{"t":2001.76,"v":0.00338},{"t":2001.88,"v":0.00331},{"t":2002.06,"v":0.00324},{"t":2002.22,"v":0.00316},{"t":2002.38,"v":0.00338},{"t":2002.57,"v":0.00368},{"t":2002.75,"v":0.00397},{"t":2002.91,"v":0.00412},{"t":2003.07,"v":0.00426},{"t":2003.26,"v":0.00438},{"t":2003.44,"v":0.00434},{"t":2003.60,"v":0.00419},{"t":2003.76,"v":0.00408},{"t":2003.95,"v":0.00393},{"t":2004.13,"v":0.00375},{"t":2004.29,"v":0.00368},{"t":2004.46,"v":0.00371},{"t":2004.64,"v":0.00368},{"t":2004.82,"v":0.00379},{"t":2005.06,"v":0.00381}]
},
"vconcat": [
{
 "title": {"text": "Standard Index"},
 "width": 421, "height": 408,
 "encoding": {
  "x": {"field": "t", "type": "quantitative", "scale": {"domain": [1976, 2005.1], "nice": false, "zero": false}, "axis": {"values": [1976,1977,1978,1979,1980,1981,1982,1983,1984,1985,1986,1987,1988,1989,1990,1991,1992,1993,1994,1995,1996,1997,1998,1999,2000,2001,2002,2003,2004,2005], "format": "d", "labelAngle": -90, "labelFlush": false, "labelOverlap": false, "grid": false, "tickSize": 4, "labelPadding": 2, "zindex": 1}},
  "y": {"field": "v", "type": "quantitative", "scale": {"domain": [0, 0.009], "nice": false}, "axis": {"values": [0,0.001,0.002,0.003,0.004,0.005,0.006,0.007,0.008,0.009], "format": ".3~f", "grid": true, "gridDash": [1.5,3], "gridColor": "#a0a0a0", "tickSize": 3, "labelPadding": 3, "domainWidth": 1.5}}
 },
 "layer": [
  {"data": {"name": "bond"}, "mark": {"type": "area", "color": "#cccccc", "line": {"color": "#4a4a4a", "strokeWidth": 0.8}}},
  {"data": {"name": "p1a"}, "mark": {"type": "line", "strokeWidth": 0.9},
   "encoding": {"stroke": {"datum": "Theta = 0.995", "type": "nominal",
     "scale": {"domain": ["10y Gov. Bond", "Theta = 0.995", "Theta = 0.999"], "range": ["#555555", "#000000", "#000000"]},
     "legend": {"legendX": 305, "legendY": 30, "rowPadding": 1.5, "labelOffset": 24,
       "encode": {"symbols": {"update": {
         "shape": {"signal": "datum.value === '10y Gov. Bond' ? 'M0.6,-0.5H5.6V0.5H0.6Z' : 'M0.6,0H5.6'"},
         "fill": {"signal": "datum.value === '10y Gov. Bond' ? '#cccccc' : 'transparent'"},
         "stroke": {"signal": "datum.value === '10y Gov. Bond' ? '#555555' : '#000000'"},
         "strokeWidth": {"signal": "datum.value === 'Theta = 0.999' ? 2.5 : 1"}}}}}}}},
  {"data": {"name": "p1b"}, "mark": {"type": "line", "strokeWidth": 2.2},
   "encoding": {"stroke": {"datum": "Theta = 0.999", "type": "nominal"}}}
 ]
},
{
 "title": {"text": "Value Index"},
 "width": 421, "height": 408,
 "encoding": {
  "x": {"field": "t", "type": "quantitative", "scale": {"domain": [1976, 2005.1], "nice": false, "zero": false}, "axis": {"values": [1976,1977,1978,1979,1980,1981,1982,1983,1984,1985,1986,1987,1988,1989,1990,1991,1992,1993,1994,1995,1996,1997,1998,1999,2000,2001,2002,2003,2004,2005], "format": "d", "labelAngle": -90, "labelFlush": false, "labelOverlap": false, "grid": false, "tickSize": 4, "labelPadding": 2, "zindex": 1}},
  "y": {"field": "v", "type": "quantitative", "scale": {"domain": [0, 0.009], "nice": false}, "axis": {"values": [0,0.001,0.002,0.003,0.004,0.005,0.006,0.007,0.008,0.009], "format": ".3~f", "grid": true, "gridDash": [1.5,3], "gridColor": "#a0a0a0", "tickSize": 3, "labelPadding": 3, "domainWidth": 1.5}}
 },
 "layer": [
  {"data": {"name": "bond"}, "mark": {"type": "area", "color": "#cccccc", "line": {"color": "#4a4a4a", "strokeWidth": 0.8}}},
  {"data": {"name": "p2a"}, "mark": {"type": "line", "strokeWidth": 0.9},
   "encoding": {"stroke": {"datum": "Theta = 0.995", "type": "nominal",
     "scale": {"domain": ["10y Gov. Bond", "Theta = 0.995", "Theta = 0.999"], "range": ["#555555", "#000000", "#000000"]},
     "legend": {"legendX": 296, "legendY": 284, "rowPadding": 6, "labelOffset": 17,
       "encode": {"symbols": {"update": {
         "shape": {"signal": "datum.value === '10y Gov. Bond' ? 'M-1,-0.5H4V0.5H-1Z' : 'M-1,0H4'"},
         "fill": {"signal": "datum.value === '10y Gov. Bond' ? '#cccccc' : 'transparent'"},
         "stroke": {"signal": "datum.value === '10y Gov. Bond' ? '#555555' : '#000000'"},
         "strokeWidth": {"signal": "datum.value === 'Theta = 0.999' ? 2.5 : 1"}}}}}}}},
  {"data": {"name": "p2b"}, "mark": {"type": "line", "strokeWidth": 2.2},
   "encoding": {"stroke": {"datum": "Theta = 0.999", "type": "nominal"}}}
 ]
},
{
 "title": {"text": "Growth Index"},
 "width": 421, "height": 408,
 "encoding": {
  "x": {"field": "t", "type": "quantitative", "scale": {"domain": [1976, 2005.1], "nice": false, "zero": false}, "axis": {"values": [1976,1977,1978,1979,1980,1981,1982,1983,1984,1985,1986,1987,1988,1989,1990,1991,1992,1993,1994,1995,1996,1997,1998,1999,2000,2001,2002,2003,2004,2005], "format": "d", "labelAngle": -90, "labelFlush": false, "labelOverlap": false, "grid": false, "tickSize": 4, "labelPadding": 2, "zindex": 1}},
  "y": {"field": "v", "type": "quantitative", "scale": {"domain": [0, 0.009], "nice": false}, "axis": {"values": [0,0.001,0.002,0.003,0.004,0.005,0.006,0.007,0.008,0.009], "format": ".3~f", "grid": true, "gridDash": [1.5,3], "gridColor": "#a0a0a0", "tickSize": 3, "labelPadding": 3, "domainWidth": 1.5}}
 },
 "layer": [
  {"data": {"name": "bond"}, "mark": {"type": "area", "color": "#cccccc", "line": {"color": "#4a4a4a", "strokeWidth": 0.8}}},
  {"data": {"name": "p3a"}, "mark": {"type": "line", "strokeWidth": 0.9},
   "encoding": {"stroke": {"datum": "Theta = 0.995", "type": "nominal",
     "scale": {"domain": ["10y Gov. Bond", "Theta = 0.995", "Theta = 0.999"], "range": ["#555555", "#000000", "#000000"]},
     "legend": {"legendX": 293, "legendY": 34, "rowPadding": 6, "labelOffset": 17,
       "encode": {"symbols": {"update": {
         "shape": {"signal": "datum.value === '10y Gov. Bond' ? 'M-1,-0.5H4V0.5H-1Z' : 'M-1,0H4'"},
         "fill": {"signal": "datum.value === '10y Gov. Bond' ? '#cccccc' : 'transparent'"},
         "stroke": {"signal": "datum.value === '10y Gov. Bond' ? '#555555' : '#000000'"},
         "strokeWidth": {"signal": "datum.value === 'Theta = 0.999' ? 2.5 : 1"}}}}}}}},
  {"data": {"name": "p3b"}, "mark": {"type": "line", "strokeWidth": 2.2},
   "encoding": {"stroke": {"datum": "Theta = 0.999", "type": "nominal"}}}
 ]
}
]
}
